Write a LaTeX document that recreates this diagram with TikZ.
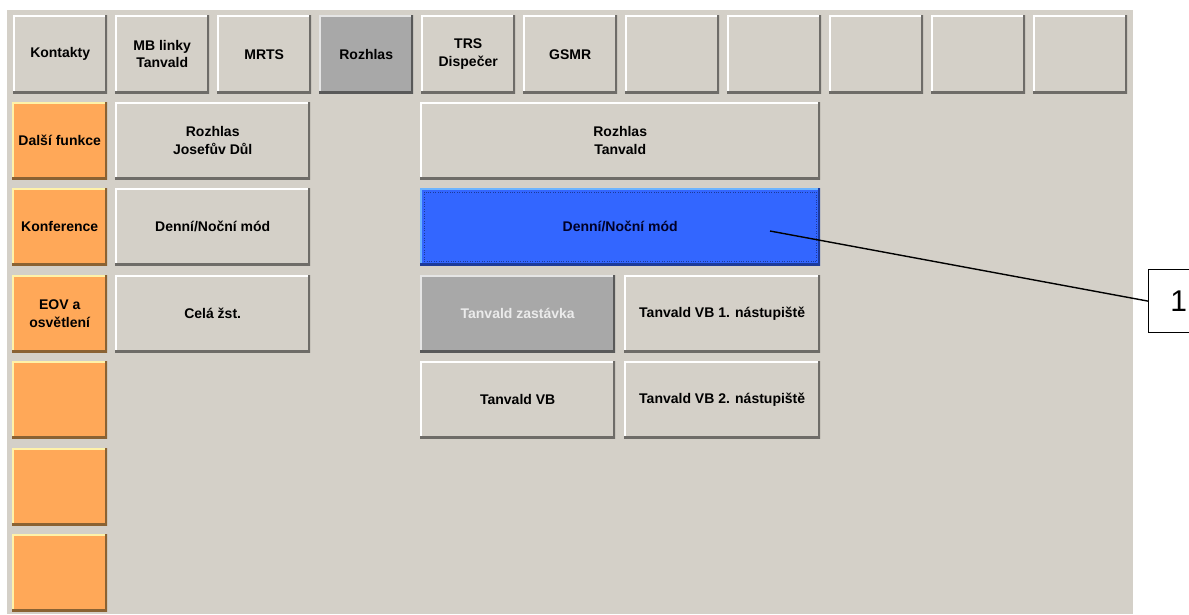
\documentclass[tikz,border=0pt]{standalone}
\usepackage{fontspec}
\setmainfont{Liberation Sans}
\definecolor{panel}{HTML}{D4D0C8}
\definecolor{btnshadow}{HTML}{6E6C68}
\definecolor{orange}{HTML}{FFA858}
\definecolor{orangehi}{HTML}{FFF2A8}
\definecolor{orangelo}{HTML}{8A6233}
\definecolor{pressed}{HTML}{A8A8A8}
\definecolor{active}{HTML}{3366FF}
\definecolor{activehi}{HTML}{6CB4FF}
\definecolor{activelo}{HTML}{1C3A9A}
\tikzset{bevel/.style 2 args={path picture={
    \draw[line width=4pt,#1] (path picture bounding box.south west) -- (path picture bounding box.north west) -- (path picture bounding box.north east);
    \draw[line width=4pt,#2] (path picture bounding box.south west) -- (path picture bounding box.south east) -- (path picture bounding box.north east);
}}}

\begin{document}
\begin{tikzpicture}[x=1pt,y=-1pt]
        \tikzstyle{every node}=[font=\bfseries\fontsize{14}{17.5}\selectfont]
        \tikzstyle{btn}=[anchor=north west, inner sep=0pt, align=center, minimum width=94pt, minimum height=77pt, fill=panel, bevel={white}{btnshadow}]
        \tikzstyle{tab}=[minimum height=78pt]
        \tikzstyle{wide}=[minimum width=195pt]
        \tikzstyle{side}=[minimum width=95pt, fill=orange, bevel={orangehi}{orangelo}]
        \tikzstyle{selected}=[fill=pressed, bevel={white!70!pressed}{black!65}]

        \path[use as bounding box, clip] (0,0) rectangle (1189,614);
        \fill[panel] (7,10) rectangle (1133,614);

        \node[btn, tab] (kontakty) at (13,15) {Kontakty};
        \node[btn, tab] (mblinky) at (115,15) {MB linky\\Tanvald};
        \node[btn, tab] (mrts) at (217,15) {MRTS};
        \node[btn, tab, selected] (rozhlas) at (319,15) {Rozhlas};
        \node[btn, tab] (trs) at (421,15) {TRS\\Dispečer};
        \node[btn, tab] (gsmr) at (523,15) {GSMR};
        \node[btn, tab] (tab7) at (625,15) {};
        \node[btn, tab] (tab8) at (727,15) {};
        \node[btn, tab] (tab9) at (829,15) {};
        \node[btn, tab] (tab10) at (931,15) {};
        \node[btn, tab] (tab11) at (1033,15) {};

        \node[btn, side] (dalsi) at (12,102) {Další funkce};
        \node[btn, side] (konference) at (12,188) {Konference};
        \node[btn, side] (eov) at (12,275) {EOV a\\osvětlení};
        \node[btn, side] (side4) at (12,361) {};
        \node[btn, side] (side5) at (12,448) {};
        \node[btn, side] (side6) at (12,534) {};

        \node[btn, wide] (josefuv) at (115,102) {Rozhlas\\Josefův Důl};
        \node[btn, wide] (rezim) at (115,188) {Denní/Noční mód};
        \node[btn, wide] (cela) at (115,275) {Celá žst.};

        \node[btn, minimum width=400pt] (tanvald) at (420,102) {Rozhlas\\Tanvald};
        \node[btn, minimum width=400pt, fill=active, text=black!85!blue, bevel={activehi}{activelo}] (rezimtanvald) at (420,188) {Denní/Noční mód};
        \draw[dotted, activelo] ([shift={(4pt,-4pt)}]rezimtanvald.north west) rectangle ([shift={(-4pt,4pt)}]rezimtanvald.south east);
        \node[btn, wide, selected, text=white!92!black] (zastavka) at (420,275) {Tanvald zastávka};
        \node[btn, minimum width=196pt] (vb1) at (624,275) {Tanvald VB 1. nástupiště};
        \node[btn, wide] (vb) at (420,361) {Tanvald VB};
        \node[btn, minimum width=196pt] (vb2) at (624,361) {Tanvald VB 2. nástupiště};

        \node[draw, fill=white, line width=1.2pt, anchor=north west, minimum width=60pt, minimum height=63pt, font=\fontsize{30}{33}\selectfont] (c1) at (1148,269) {1};
        \coordinate (p1) at (770,231);
        \draw[line width=1.4pt] (p1) -- (c1.west);

    \end{tikzpicture}
\end{document}
